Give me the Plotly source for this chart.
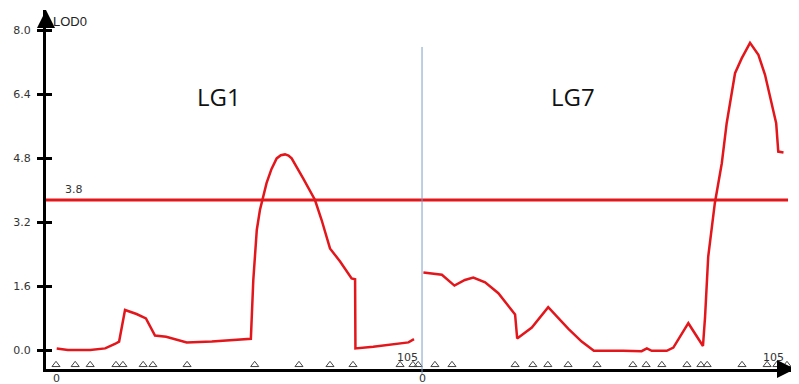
import plotly.graph_objects as go

# ---------------- data ----------------
group_names = ["LG1", "LG7"]
group_lengths = [105, 105]          # cM length of each linkage group
axis_label = "LOD0"
threshold = 3.75
y_ticks = [0.0, 1.6, 3.2, 4.8, 6.4, 8.0]

lg1_pos = [0.2, 3.4, 9.8, 14.1, 16.9, 18.1, 19.8, 23.1, 25.8, 28.4, 31.6, 34.1, 37.5,
           44.7, 49.9, 55.9, 56.6, 57.6, 58.5, 60.4, 61.8, 63.3, 64.5, 65.7, 66.7, 67.6,
           70.9, 74.3, 76.2, 78.6, 81.5, 84.8, 85.8, 85.9, 91.0, 98.7, 101.1, 102.7]
lg1_lod = [0.04, 0.0, 0.0, 0.04, 0.15, 0.21, 1.0, 0.9, 0.79, 0.36, 0.33, 0.27, 0.19,
           0.21, 0.25, 0.28, 1.75, 3.0, 3.5, 4.17, 4.52, 4.79, 4.87, 4.89, 4.86, 4.79,
           4.29, 3.75, 3.25, 2.54, 2.21, 1.79, 1.77, 0.04, 0.08, 0.15, 0.19, 0.27]

lg7_pos = [0.4, 5.7, 9.3, 12.3, 14.7, 18.1, 21.9, 26.7, 27.3, 31.5, 36.2, 42.0, 45.8,
           49.3, 57.7, 63.0, 64.5, 65.9, 70.2, 72.1, 76.4, 80.6, 81.2, 82.1, 84.0,
           86.0, 87.4, 89.8, 91.7, 94.1, 96.5, 98.4, 101.6, 102.2, 103.7]
lg7_lod = [1.94, 1.88, 1.61, 1.75, 1.81, 1.69, 1.42, 0.89, 0.29, 0.56, 1.07, 0.53, 0.21,
           -0.02, -0.02, -0.03, 0.04, -0.02, -0.02, 0.06, 0.67, 0.1, 0.83, 2.33, 3.67,
           4.67, 5.67, 6.92, 7.29, 7.68, 7.38, 6.88, 5.67, 4.96, 4.94]

lg1_markers = [0, 5.5, 9.8, 17.2, 19.2, 25, 27.8, 37.6, 57, 69.7, 78.6, 85.2, 98.7, 102.4, 103.9]
lg7_markers = [3.7, 8.6, 26.7, 31.8, 36.1, 41.9, 50.2, 60.5, 64.3, 68.8, 76, 80, 81.8,
               91.8, 99, 101.8, 104.7]

# ---------------- figure ----------------
RED = "#e3161b"
offsets = [0, group_lengths[0]]
total = sum(group_lengths)
x_min, x_max = -2.87, 212.0
y_min, y_max = -0.475, 8.5
marker_y = -0.37
SMALL = dict(family="DejaVu Sans, Liberation Sans", size=11, color="#333")

fig = go.Figure()

for pos, lod, off in [(lg1_pos, lg1_lod, offsets[0]), (lg7_pos, lg7_lod, offsets[1])]:
    fig.add_trace(go.Scatter(x=[p + off for p in pos], y=lod, mode="lines",
                             line=dict(color=RED, width=2.5), hoverinfo="skip",
                             showlegend=False))

mk_x = [p + offsets[0] for p in lg1_markers] + [p + offsets[1] for p in lg7_markers]
fig.add_trace(go.Scatter(x=mk_x, y=[marker_y] * len(mk_x), mode="markers",
                         marker=dict(symbol="triangle-up-open", size=7,
                                     color="#444", line=dict(width=1, color="#444")),
                         cliponaxis=False, showlegend=False, hoverinfo="skip"))

# invisible trace for the overlaying axis (inner half of tick crosses)
fig.add_trace(go.Scatter(x=[x_min], y=[y_min], yaxis="y2", mode="markers",
                         marker=dict(opacity=0), showlegend=False, hoverinfo="skip"))

# threshold line
fig.add_shape(type="line", xref="x", yref="y", x0=x_min, x1=total, y0=threshold, y1=threshold,
              line=dict(color=RED, width=3))
# divider between linkage groups
fig.add_shape(type="line", xref="x", yref="paper", x0=offsets[1], x1=offsets[1],
              y0=-0.017, y1=0.897, line=dict(color="#7f9fc8", width=1))

annotations = []
# group names
name_x = [46.8, 43.3]
for nm, off, nx in zip(group_names, offsets, name_x):
    annotations.append(dict(x=off + nx, y=6.35, xref="x", yref="y", text=nm, showarrow=False,
                            font=dict(family="Open Sans, Noto Sans", size=24, color="#111")))
# 0 / length labels
for off, ln in zip(offsets, group_lengths):
    annotations.append(dict(x=off, y=0, xref="x", yref="paper", text="0", showarrow=False,
                            yanchor="top", yshift=-1, font=SMALL))
    annotations.append(dict(x=off + ln, y=0, xref="x", yref="paper", text=str(ln),
                            showarrow=False, xanchor="right", yanchor="bottom", xshift=-2, yshift=3,
                            font=SMALL))
# threshold label
annotations.append(dict(x=2.0, y=threshold, xref="x", yref="y", text=f"{threshold:.1f}",
                        showarrow=False, xanchor="left", yanchor="bottom", yshift=2, font=SMALL))
# axis label
annotations.append(dict(x=0, y=1, xref="paper", yref="paper", text=axis_label, showarrow=False,
                        xanchor="left", yanchor="top", xshift=5, yshift=-2,
                        font=dict(family="Liberation Sans, Arial", size=13, color="#222")))
# axis arrow heads
annotations.append(dict(x=0, y=1, xref="paper", yref="paper", ax=0, ay=14, text="",
                        showarrow=True, arrowhead=2, arrowsize=1.2, arrowwidth=3,
                        arrowcolor="black"))
annotations.append(dict(x=1, y=0, xref="paper", yref="paper", ax=-14, ay=0, text="",
                        showarrow=True, arrowhead=2, arrowsize=1.2, arrowwidth=3,
                        arrowcolor="black"))

# the page body has an 8px default margin, so the figure is sized/offset to compensate
fig.update_layout(
    width=791, height=376,
    margin=dict(l=38, r=4, t=2, b=15, autoexpand=False),
    paper_bgcolor="white", plot_bgcolor="white",
    showlegend=False,
    xaxis=dict(range=[x_min, x_max], showgrid=False, zeroline=False, showline=True,
               linecolor="black", linewidth=3, showticklabels=False, ticks="",
               automargin=False),
    yaxis=dict(range=[y_min, y_max], tickvals=y_ticks, ticktext=[f"{v:.1f}" for v in y_ticks],
               ticks="outside", ticklen=6, tickwidth=3, tickcolor="black",
               showgrid=False, zeroline=False, showline=True, linecolor="black", linewidth=3,
               ticklabelstandoff=4, automargin=False, tickfont=SMALL),
    yaxis2=dict(range=[y_min, y_max], overlaying="y", side="left", tickvals=y_ticks,
                ticks="inside", ticklen=6, tickwidth=3, tickcolor="black", automargin=False,
                showticklabels=False, showgrid=False, zeroline=False, showline=False),
    annotations=annotations,
)

fig.write_html("out.html")
